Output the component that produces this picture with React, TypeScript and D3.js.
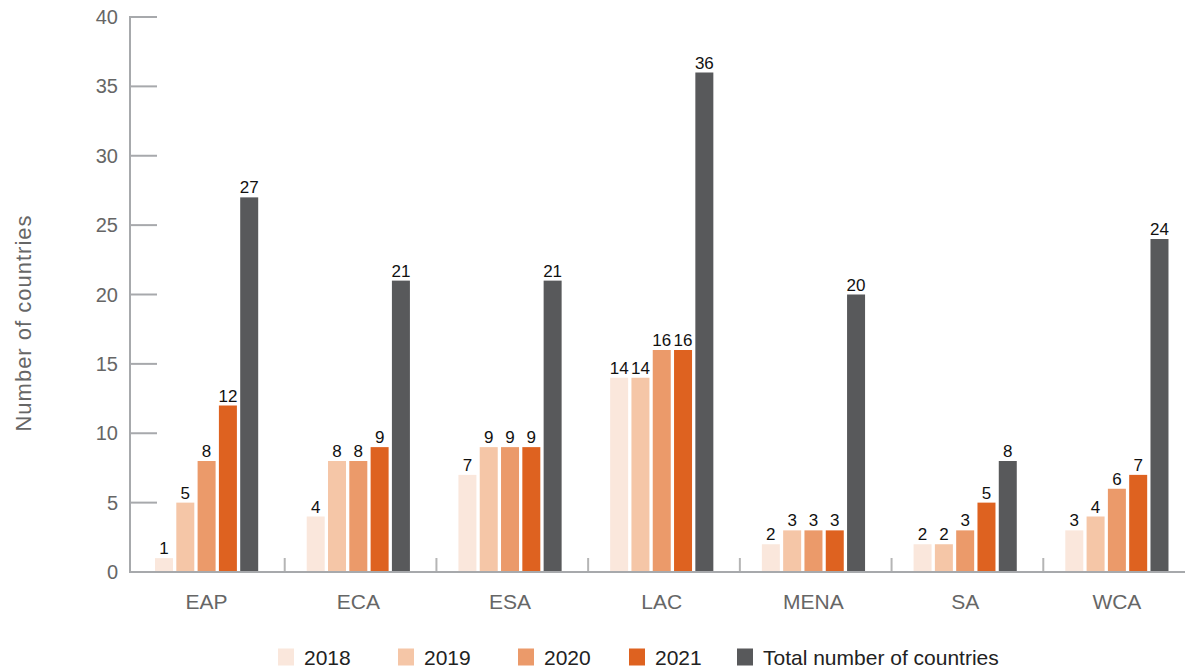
import * as d3 from 'd3';

const categories = ['EAP', 'ECA', 'ESA', 'LAC', 'MENA', 'SA', 'WCA'];
const series = ['2018', '2019', '2020', '2021', 'Total number of countries'];
const values2018 = [1, 4, 7, 14, 2, 2, 3];
const values2019 = [5, 8, 9, 14, 3, 2, 4];
const values2020 = [8, 8, 9, 16, 3, 3, 6];
const values2021 = [12, 9, 9, 16, 3, 5, 7];
const valuesTotal = [27, 21, 21, 36, 20, 8, 24];
const yTicks = [0, 5, 10, 15, 20, 25, 30, 35, 40];

const COLORS = ['#fae7dc', '#f5c6a7', '#eb9a6a', '#de6220', '#58595b'];
const LEGEND_X = [278, 398, 518, 629, 737];

const WIDTH = 1185;
const HEIGHT = 669;
const AXIS_X = 130;
const FONT = '"Liberation Sans", Arial, Helvetica, sans-serif';
const GREY_TEXT = '#666666';
const AXIS_COLOR = '#a7a9ac';

const App = () => {
  const allSeries = [values2018, values2019, values2020, values2021, valuesTotal];

  // Y axis
  const yScale = d3.scaleLinear().domain([0, 40]).range([572, 17]);

  // X axis: one band per region
  const xScale = d3.scaleBand().domain(categories).range([133, 1195]).padding(0);

  // bars inside a region
  const innerScale = d3
    .scaleBand()
    .domain(series)
    .range([22, 125.2])
    .paddingInner(0.155)
    .paddingOuter(0);

  const grid = yTicks.map((t) => (
    <g key={t}>
      <line
        x1={AXIS_X}
        x2={AXIS_X + 27}
        y1={yScale(t)}
        y2={yScale(t)}
        stroke={AXIS_COLOR}
        strokeWidth={2}
      />
      <text
        x={118}
        y={yScale(t)}
        textAnchor="end"
        dominantBaseline="central"
        fontSize={20}
        fill={GREY_TEXT}
      >
        {t}
      </text>
    </g>
  ));

  const bars = categories.map((c, ci) => {
    const x0 = xScale(c) ?? 0;
    return (
      <g key={c}>
        {series.map((s, si) => {
          const v = allSeries[si][ci];
          const x = x0 + (innerScale(s) ?? 0);
          const w = innerScale.bandwidth();
          return (
            <g key={s}>
              <rect x={x} y={yScale(v)} width={w} height={yScale(0) - yScale(v)} fill={COLORS[si]} />
              <text
                x={x + w / 2}
                y={yScale(v) - 4}
                textAnchor="middle"
                fontSize={17}
                fill="#111111"
              >
                {v}
              </text>
            </g>
          );
        })}
        <text
          x={x0 + 73.6}
          y={601}
          textAnchor="middle"
          dominantBaseline="central"
          fontSize={21}
          fill={GREY_TEXT}
        >
          {c}
        </text>
        {ci > 0 && (
          <line x1={x0} x2={x0} y1={558} y2={572} stroke="#b5b5b5" strokeWidth={2} />
        )}
      </g>
    );
  });

  const legend = series.map((s, i) => (
    <g key={s} transform={`translate(${LEGEND_X[i]},657)`}>
      <rect x={0} y={-8.5} width={16} height={17} fill={COLORS[i]} />
      <text x={26} y={0} dominantBaseline="central" fontSize={21} fill="#222222">
        {s}
      </text>
    </g>
  ));

  return (
    <svg
      width={WIDTH}
      height={HEIGHT}
      style={{ position: 'absolute', left: 0, top: 0, background: '#ffffff' }}
      fontFamily={FONT}
    >
      {grid}
      <line x1={AXIS_X} x2={AXIS_X} y1={16} y2={573} stroke={AXIS_COLOR} strokeWidth={2} />
      {bars}
      <line x1={AXIS_X} x2={WIDTH} y1={572} y2={572} stroke={AXIS_COLOR} strokeWidth={2} />
      <text
        transform="translate(31,323) rotate(-90)"
        textAnchor="middle"
        fontSize={22}
        letterSpacing={1}
        fill={GREY_TEXT}
      >
        Number of countries
      </text>
      {legend}
    </svg>
  );
};

export default App;
